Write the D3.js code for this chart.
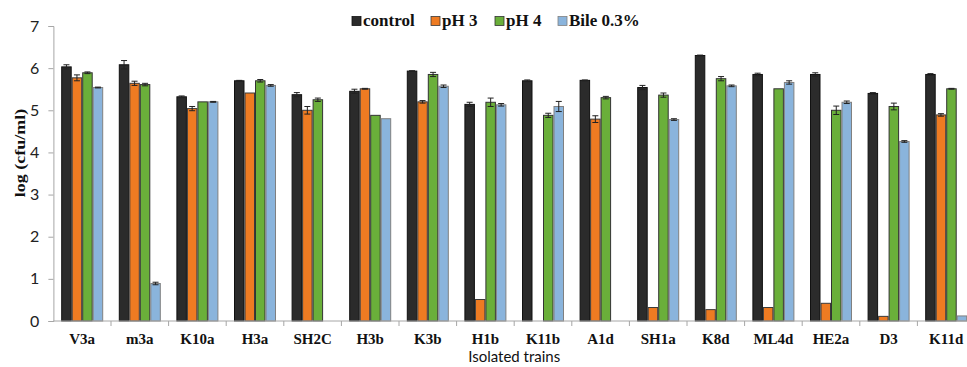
<!DOCTYPE html>
<html>
<head>
<meta charset="utf-8">
<script src="https://cdn.jsdelivr.net/npm/d3@7"></script>
<style>
  html, body { margin: 0; padding: 0; background: #fff; }
  svg { display: block; }
</style>
</head>
<body>
<svg id="chart" width="967" height="367"></svg>
<script>
// Strains and treatments
const strains = ["V3a","m3a","K10a","H3a","SH2C","H3b","K3b","H1b","K11b","A1d","SH1a","K8d","ML4d","HE2a","D3","K11d"];
const seriesNames = ["control","pH 3","pH 4","Bile 0.3%"];
const seriesColors = ["#2b2b2b","#ee7b22","#6aaf3a","#8ab4dc"];
const seriesStrokes = ["#111111","#3a3a3a","#333333","#808080"];

// Viable counts, log (cfu/ml); null = no growth recorded
const controlVals = [6.03,6.08,5.32,5.70,5.37,5.45,5.93,5.14,5.70,5.71,5.54,6.30,5.85,5.85,5.40,5.85];
const ph3Vals     = [5.77,5.64,5.04,5.41,5.00,5.51,5.20,0.51,null,4.79,0.32,0.27,0.32,0.42,0.11,4.89];
const ph4Vals     = [5.89,5.61,5.20,5.70,5.25,4.88,5.85,5.19,4.88,5.30,5.36,5.75,5.51,5.00,5.09,5.51];
const bileVals    = [5.54,0.89,5.20,5.59,null,4.80,5.57,5.13,5.09,null,4.78,5.58,5.66,5.19,4.26,0.12];

// Standard error bars
const controlErr = [0.05,0.10,0.02,0.01,0.05,0.05,0.01,0.05,0.02,0.01,0.05,0.01,0.03,0.04,0.02,0.02];
const ph3Err     = [0.07,0.05,0.05,0.00,0.09,0.01,0.03,0.00,0.00,0.08,0.00,0.00,0.00,0.00,0.00,0.03];
const ph4Err     = [0.02,0.03,0.00,0.03,0.04,0.00,0.05,0.10,0.05,0.03,0.05,0.05,0.00,0.10,0.08,0.01];
const bileErr    = [0.01,0.03,0.01,0.02,0.00,0.00,0.03,0.03,0.12,0.00,0.02,0.02,0.04,0.03,0.02,0.00];

const yTicks = [0,1,2,3,4,5,6,7];

const values = [controlVals, ph3Vals, ph4Vals, bileVals];
const errors = [controlErr, ph3Err, ph4Err, bileErr];

const svg = d3.select("#chart");
const plot = { left: 53.4, right: 975, top: 26, bottom: 321 };

const x = d3.scaleBand().domain(strains).range([plot.left, plot.right]).paddingInner(0).paddingOuter(0);
const groupWidth = 42;
const xs = d3.scaleBand().domain(d3.range(seriesNames.length)).range([0, groupWidth]).padding(0);
const y = d3.scaleLinear().domain([0, 7]).range([plot.bottom, plot.top]);

// Bars
const g = svg.append("g");
strains.forEach((s, i) => {
  const gx = x(s) + (x.bandwidth() - groupWidth) / 2;
  seriesNames.forEach((name, k) => {
    const v = values[k][i];
    if (v == null) return;
    const bx = gx + xs(k);
    g.append("rect")
      .attr("x", bx + 0.5)
      .attr("y", y(v))
      .attr("width", xs.bandwidth() - 1)
      .attr("height", y(0) - y(v))
      .attr("fill", seriesColors[k])
      .attr("stroke", seriesStrokes[k])
      .attr("stroke-width", 1);
    const e = errors[k][i];
    if (e > 0) {
      const cx = bx + xs.bandwidth() / 2;
      const eg = g.append("g").attr("stroke", "#222").attr("stroke-width", 1);
      eg.append("line").attr("x1", cx).attr("x2", cx).attr("y1", y(v + e)).attr("y2", y(v - e));
      eg.append("line").attr("x1", cx - 3).attr("x2", cx + 3).attr("y1", y(v + e)).attr("y2", y(v + e));
      eg.append("line").attr("x1", cx - 3).attr("x2", cx + 3).attr("y1", y(v - e)).attr("y2", y(v - e));
    }
  });
});

// Y axis
const yAxis = d3.axisLeft(y).tickValues(yTicks).tickSize(5).tickPadding(9).tickFormat(d3.format("d"));
const yg = svg.append("g").attr("transform", `translate(${plot.left},0)`).call(yAxis);
yg.select(".domain").attr("stroke", "#a6a6a6");
yg.selectAll(".tick line").attr("stroke", "#a6a6a6");
yg.selectAll(".tick text")
  .attr("fill", "#222")
  .style("font-family", "Lato, 'Open Sans', sans-serif")
  .style("font-size", "16px");

// X axis: baseline with ticks between categories
const xg = svg.append("g");
xg.append("line")
  .attr("x1", plot.left).attr("x2", plot.right)
  .attr("y1", plot.bottom).attr("y2", plot.bottom)
  .attr("stroke", "#a6a6a6");
strains.forEach((s, i) => {
  if (i === 0) return;
  xg.append("line")
    .attr("x1", x(s)).attr("x2", x(s))
    .attr("y1", plot.bottom).attr("y2", plot.bottom + 5)
    .attr("stroke", "#a6a6a6");
});
xg.selectAll("text.cat")
  .data(strains)
  .join("text")
  .attr("class", "cat")
  .attr("x", d => x(d) + x.bandwidth() / 2)
  .attr("y", 344)
  .attr("text-anchor", "middle")
  .attr("fill", "#111")
  .style("font-family", "'Liberation Serif', 'Times New Roman', serif")
  .style("font-weight", "bold")
  .style("font-size", "15px")
  .text(d => d);

// Axis titles
svg.append("text")
  .attr("x", (plot.left + plot.right) / 2)
  .attr("y", 362)
  .attr("text-anchor", "middle")
  .attr("fill", "#111")
  .style("font-family", "Lato, 'Open Sans', sans-serif")
  .style("font-size", "15px")
  .text("Isolated trains");

svg.append("text")
  .attr("transform", "translate(25,153) rotate(-90) scale(1.2,1)")
  .attr("text-anchor", "middle")
  .attr("fill", "#111")
  .style("font-family", "'Liberation Serif', 'Times New Roman', serif")
  .style("font-weight", "bold")
  .style("font-size", "15px")
  .text("log (cfu/ml)");

// Legend
const legendX = [352, 431, 495, 558];
const lg = svg.append("g");
seriesNames.forEach((name, k) => {
  lg.append("rect")
    .attr("x", legendX[k]).attr("y", 16.5)
    .attr("width", 9).attr("height", 9)
    .attr("fill", seriesColors[k])
    .attr("stroke", seriesStrokes[k]).attr("stroke-width", 0.8);
  lg.append("text")
    .attr("x", legendX[k] + 11)
    .attr("y", 26)
    .attr("fill", "#111")
    .style("font-family", "'Liberation Serif', 'Times New Roman', serif")
    .style("font-weight", "bold")
    .style("font-size", "17px")
    .text(name);
});
</script>
</body>
</html>
